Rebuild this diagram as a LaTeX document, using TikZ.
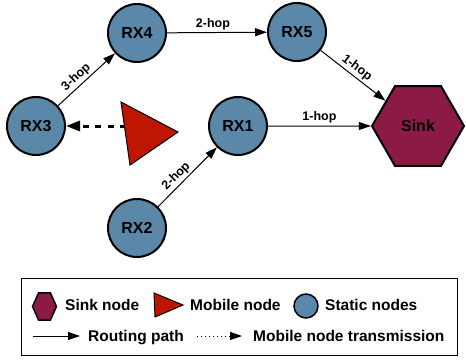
\documentclass[tikz,border=0pt]{standalone}
\usepackage{fontspec}
\setmainfont{Liberation Sans}
\usetikzlibrary{shapes,arrows.meta}
\definecolor{staticblue}{RGB}{91,136,168}
\definecolor{sinkred}{RGB}{139,26,71}
\definecolor{mobilered}{RGB}{190,22,0}
\newcommand*{\rxfont}{\fontsize{16}{18}\selectfont\bfseries}
\newcommand*{\hopfont}{\fontsize{12.5}{14}\selectfont\bfseries}
\newcommand*{\legfont}{\fontsize{15.5}{17}\selectfont\bfseries}

\begin{document}
\begin{tikzpicture}[x=1pt,y=1pt,
    static_node/.style ={circle, draw=black, line width=2pt, fill=staticblue,
      minimum size=58pt, inner sep=0pt, font=\rxfont},
    sink_node/.style ={regular polygon, regular polygon sides=6, draw=black,
      line width=2pt, fill=sinkred, minimum size=92pt, inner sep=0pt, font=\rxfont},
    mobile_node/.style ={draw=black, line width=1pt, fill=mobilered},
    line/.style ={draw, line width=1pt, -{Triangle[length=12pt,width=8pt]}},
    dash_line/.style ={draw, line width=3pt, dash pattern=on 6pt off 6.5pt,
      -{Triangle[length=14pt,width=10pt]}},
    hop_label/.style ={font=\hopfont, sloped, above, inner sep=2pt},
    legend_text/.style ={anchor=base west, inner sep=0pt, font=\legfont}]
    \useasboundingbox (0,0) rectangle (466,360);
    % static nodes
    \node [static_node] (rx4) at (137,327) {RX4};
    \node [static_node] (rx5) at (297,328) {RX5};
    \node [static_node] (rx3) at (36,234) {RX3};
    \node [static_node] (rx1) at (238,234) {RX1};
    \node [static_node] (rx2) at (137,132) {RX2};
    % sink node
    \node [sink_node] (sink) at (418,234) {Sink};
    % mobile node and its transmission
    \coordinate (mobile) at (126,234);
    \path [dash_line] (mobile) -- (rx3);
    \draw [mobile_node] (121,258) -- (130,195) -- (178,228) -- cycle;
    % routing paths
    \begin{scope}[every path/.style=line]
     \path (rx3) -- node [hop_label, pos=0.42] {3-hop} (rx4);
     \path (rx4) -- node [hop_label, pos=0.46] {2-hop} (rx5);
     \path (rx5) -- node [hop_label, pos=0.48] {1-hop} (sink);
     \path (rx1) -- node [hop_label] {1-hop} (sink);
     \path (rx2) -- node [hop_label, pos=0.41] {2-hop} (rx1);
    \end{scope}
    % legend
    \draw [line width=1pt] (21,5) rectangle (457,82);
    % legend row 1
    \node [sink_node, minimum size=26pt, line width=1.5pt, xscale=0.92, yscale=1.2]
      (leg_sink) at (44.5,53.5) {};
    \node [legend_text] (leg_sink_txt) at (65,50) {Sink node};
    \draw [mobile_node] (154,67) -- (155,43) -- (183,55) -- cycle;
    \node [legend_text] (leg_mobile_txt) at (190,50) {Mobile node};
    \node [static_node, minimum size=24pt, line width=1.5pt] (leg_static) at (306,54) {};
    \node [legend_text] (leg_static_txt) at (325,50) {Static nodes};
    % legend row 2
    \coordinate (leg_route_a) at (33,24);
    \coordinate (leg_route_b) at (80,24);
    \path [line] (leg_route_a) -- (leg_route_b);
    \node [legend_text] (leg_route_txt) at (88,18.5) {Routing path};
    \coordinate (leg_tx_a) at (197,24);
    \coordinate (leg_tx_b) at (242,24);
    \path [line, dash pattern=on 1pt off 3pt] (leg_tx_a) -- (leg_tx_b);
    \node [legend_text] (leg_tx_txt) at (253,18.5) {Mobile node transmission};
\end{tikzpicture}
\end{document}
